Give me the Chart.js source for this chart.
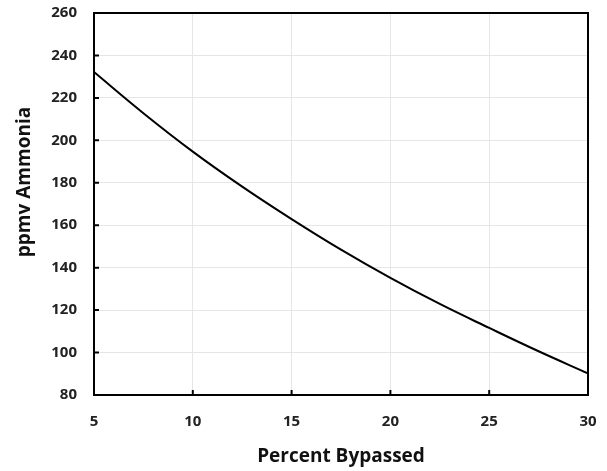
<!DOCTYPE html>
<html>
<head>
<meta charset="utf-8">
<script src="https://cdn.jsdelivr.net/npm/chart.js@4.4.1/dist/chart.umd.min.js"></script>
<style>
  html, body { margin: 0; padding: 0; background: #fff; }
  #wrap { width: 607px; height: 471px; }
</style>
</head>
<body>
<div id="wrap"><canvas id="myChart" width="607" height="471"></canvas></div>
<script>
// percent bypassed vs ppmv ammonia
const percentBypassed = [5, 7.5, 10, 12.5, 15, 17.5, 20, 22.5, 25, 27.5, 30];
const ppmvAmmonia = [232.2, 212.8, 194.7, 178.2, 162.9, 148.5, 135.2, 122.9, 111.6, 100.6, 90.2];
const xTicks = [5, 10, 15, 20, 25, 30];
const yTicks = [80, 100, 120, 140, 160, 180, 200, 220, 240, 260];
const yTitle = 'ppmv Ammonia';

const tickFont = { family: 'Open Sans', size: 15, weight: 'bold' };
const titleFont = { family: 'Open Sans', size: 19, weight: 'bold' };

// frame round the plot, short inward ticks, y title
const frame = {
    id: 'frame',
    afterDatasetsDraw(chart) {
        const { ctx, chartArea: a, scales } = chart;
        ctx.save();
        ctx.strokeStyle = '#000';
        ctx.lineWidth = 2;
        ctx.beginPath();
        yTicks.forEach(v => {
            const y = scales.y.getPixelForValue(v);
            ctx.moveTo(a.left, y);
            ctx.lineTo(a.left + 5, y);
        });
        xTicks.forEach(v => {
            const x = scales.x.getPixelForValue(v);
            ctx.moveTo(x, a.bottom);
            ctx.lineTo(x, a.bottom - 5);
        });
        ctx.stroke();
        ctx.strokeRect(a.left, a.top, a.right - a.left, a.bottom - a.top);

        ctx.translate(25, 182);
        ctx.rotate(-Math.PI / 2);
        ctx.fillStyle = '#111';
        ctx.font = 'bold 19px "Open Sans"';
        ctx.textAlign = 'center';
        ctx.textBaseline = 'middle';
        ctx.fillText(yTitle, 0, 0);
        ctx.restore();
    }
};

const data = {
    datasets: [{
        data: percentBypassed.map((x, i) => ({ x: x, y: ppmvAmmonia[i] })),
        borderColor: '#000',
        borderWidth: 2,
        pointRadius: 0,
        tension: 0.4,
        fill: false
    }]
};

const config = {
    type: 'line',
    data,
    options: {
        responsive: false,
        animation: false,
        layout: { padding: { left: 0, right: 19, top: 13, bottom: 0 } },
        plugins: { legend: { display: false }, tooltip: { enabled: false } },
        scales: {
            x: {
                type: 'linear',
                min: 5, max: 30,
                afterBuildTicks: s => { s.ticks = xTicks.map(v => ({ value: v })); },
                afterFit: s => { s.height = 76; s.paddingLeft = 0; s.paddingRight = 0; },
                grid: { color: '#e6e6e6', lineWidth: 1, drawTicks: false },
                border: { display: false },
                ticks: { font: tickFont, color: '#222', padding: 18 },
                title: { display: true, text: 'Percent Bypassed', font: titleFont, color: '#111', padding: { top: 12, bottom: 3 } }
            },
            y: {
                min: 80, max: 260,
                afterBuildTicks: s => { s.ticks = yTicks.map(v => ({ value: v })); },
                afterFit: s => { s.width = 94; s.paddingTop = 0; s.paddingBottom = 0; },
                grid: { color: '#e6e6e6', lineWidth: 1, drawTicks: false },
                border: { display: false },
                ticks: { font: tickFont, color: '#222', padding: 17 }
            }
        }
    },
    plugins: [frame]
};

new Chart(document.getElementById('myChart'), config);
</script>
</body>
</html>
